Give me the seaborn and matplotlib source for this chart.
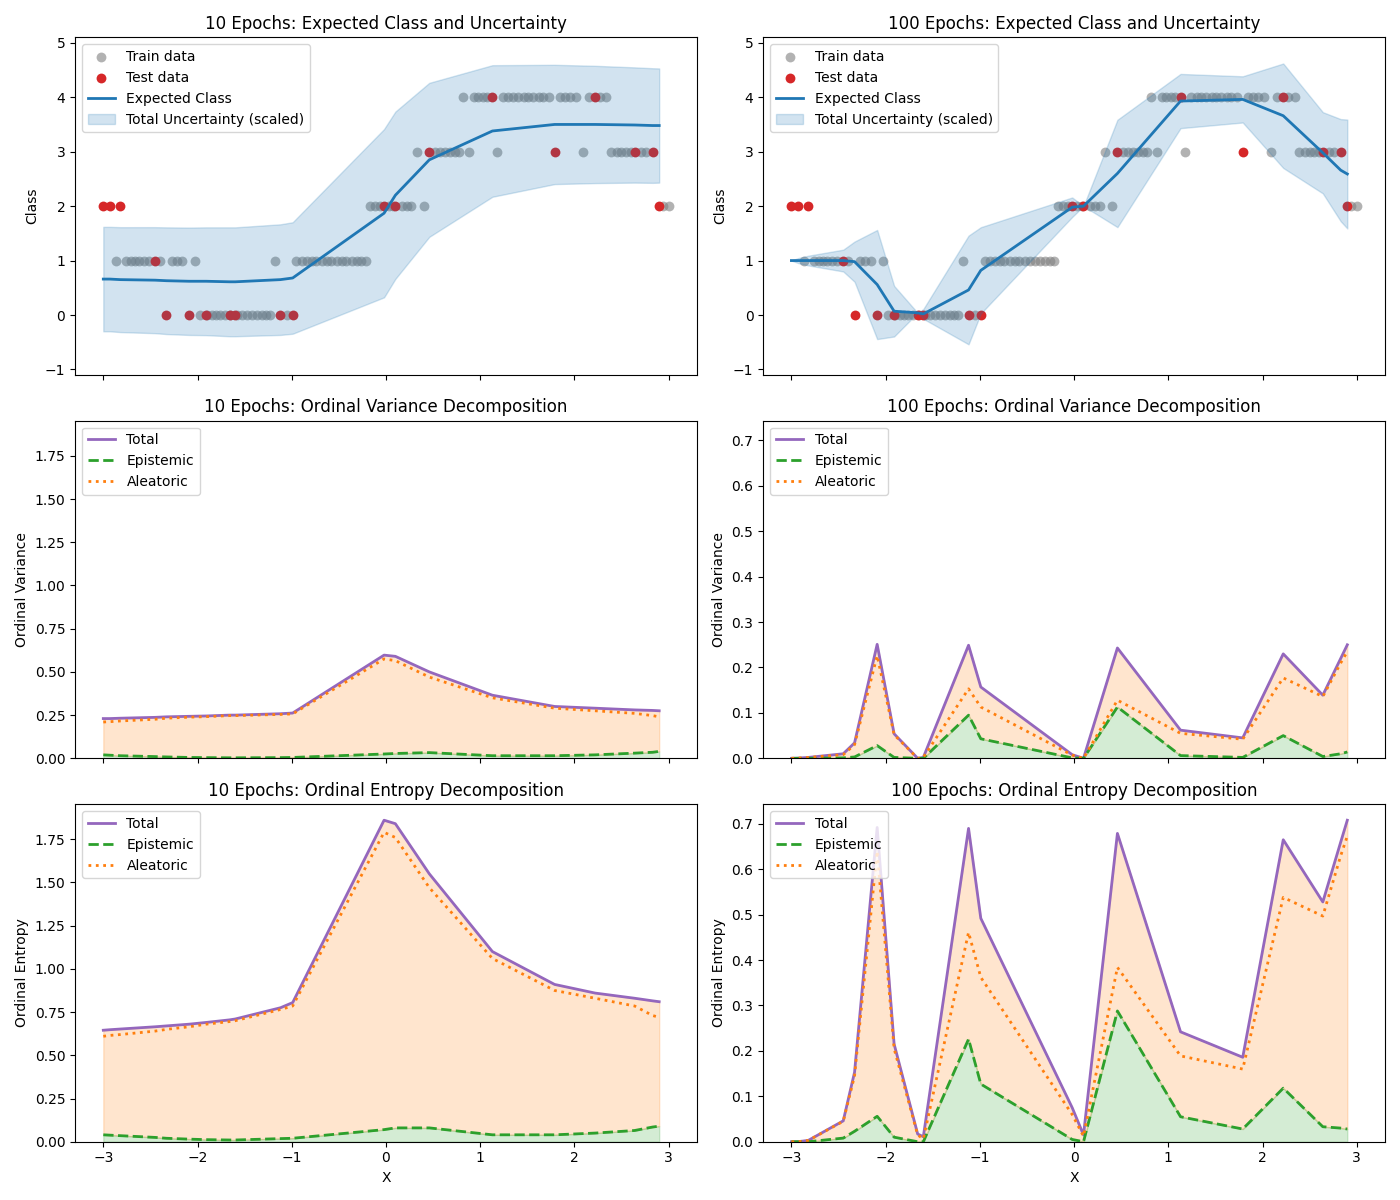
import numpy as np
import matplotlib
matplotlib.use("Agg")
import matplotlib.pyplot as plt
import seaborn as sns

# ---------------- data ----------------
train_x_class0 = [-1.97, -1.90, -1.85, -1.80, -1.76, -1.71, -1.65, -1.58, -1.53, -1.48,
                  -1.42, -1.37, -1.32, -1.27, -1.23, -1.05]
train_x_class1 = [-2.87, -2.76, -2.71, -2.66, -2.62, -2.57, -2.52, -2.40, -2.27, -2.22,
                  -2.16, -2.03, -1.18, -0.95, -0.89, -0.84, -0.79, -0.74, -0.68, -0.63,
                  -0.58, -0.52, -0.47, -0.42, -0.36, -0.31, -0.26, -0.21]
train_x_class2 = [-0.17, -0.12, -0.06, 0.03, 0.08, 0.17, 0.22, 0.27, 0.40, 2.94, 3.00]
train_x_class3 = [0.33, 0.52, 0.57, 0.63, 0.68, 0.73, 0.77, 0.88, 1.18, 2.09, 2.39, 2.45,
                  2.50, 2.55, 2.60, 2.71, 2.76]
train_x_class4 = [0.82, 0.93, 0.98, 1.03, 1.07, 1.24, 1.30, 1.35, 1.40, 1.46, 1.51, 1.56,
                  1.62, 1.67, 1.73, 1.85, 1.90, 1.95, 2.02, 2.15, 2.27, 2.34]

test_x = [-3.00, -2.93, -2.82, -2.45, -2.33, -2.09, -1.91, -1.66, -1.60, -1.12,
          -0.99, -0.02, 0.10, 0.46, 1.13, 1.79, 2.22, 2.64, 2.83, 2.90]
test_y = [2, 2, 2, 1, 0, 0, 0, 0, 0, 0, 0, 2, 2, 3, 4, 3, 4, 3, 3, 2]

# 10 epochs
exp_class_10 = [0.66, 0.66, 0.65, 0.64, 0.63, 0.62, 0.62, 0.61, 0.61, 0.65,
                0.68, 1.87, 2.20, 2.85, 3.38, 3.50, 3.50, 3.49, 3.48, 3.48]
var_total_10 = [0.230, 0.230, 0.232, 0.237, 0.240, 0.243, 0.245, 0.250, 0.250, 0.258,
                0.262, 0.597, 0.590, 0.500, 0.365, 0.300, 0.290, 0.280, 0.277, 0.275]
var_epi_10 = [0.020, 0.018, 0.015, 0.010, 0.008, 0.005, 0.004, 0.003, 0.003, 0.004,
              0.005, 0.025, 0.028, 0.033, 0.015, 0.015, 0.020, 0.030, 0.035, 0.040]
var_alea_10 = [0.210, 0.212, 0.216, 0.226, 0.232, 0.238, 0.241, 0.247, 0.247, 0.254,
               0.257, 0.575, 0.565, 0.470, 0.350, 0.290, 0.275, 0.260, 0.247, 0.240]
ent_total_10 = [0.645, 0.648, 0.652, 0.665, 0.670, 0.680, 0.690, 0.705, 0.710, 0.775,
                0.805, 1.860, 1.840, 1.550, 1.100, 0.910, 0.860, 0.830, 0.815, 0.810]
ent_epi_10 = [0.040, 0.038, 0.035, 0.025, 0.020, 0.015, 0.012, 0.010, 0.010, 0.018,
              0.020, 0.070, 0.080, 0.080, 0.040, 0.040, 0.050, 0.065, 0.085, 0.090]
ent_alea_10 = [0.610, 0.615, 0.620, 0.640, 0.650, 0.665, 0.680, 0.695, 0.700, 0.765,
               0.785, 1.790, 1.760, 1.470, 1.060, 0.875, 0.830, 0.785, 0.730, 0.720]

# 100 epochs
exp_class_100 = [1.00, 1.00, 1.00, 1.00, 0.98, 0.56, 0.07, 0.04, 0.02, 0.46,
                 0.82, 1.98, 2.00, 2.60, 3.93, 3.96, 3.66, 2.98, 2.66, 2.59]
var_total_100 = [0.000, 0.0005, 0.002, 0.010, 0.034, 0.251, 0.054, 0.000, 0.002, 0.249,
                 0.157, 0.008, 0.000, 0.243, 0.062, 0.045, 0.230, 0.139, 0.220, 0.250]
var_epi_100 = [0.000, 0.000, 0.000, 0.001, 0.003, 0.028, 0.002, 0.000, 0.000, 0.095,
               0.043, 0.001, 0.000, 0.113, 0.006, 0.002, 0.050, 0.004, 0.010, 0.014]
var_alea_100 = [0.000, 0.0005, 0.002, 0.008, 0.030, 0.226, 0.052, 0.000, 0.002, 0.153,
                0.113, 0.007, 0.000, 0.128, 0.055, 0.042, 0.177, 0.136, 0.210, 0.235]
ent_total_100 = [0.000, 0.000, 0.003, 0.046, 0.153, 0.692, 0.215, 0.017, 0.011, 0.690,
                 0.492, 0.075, 0.015, 0.679, 0.242, 0.186, 0.665, 0.528, 0.660, 0.708]
ent_epi_100 = [0.000, 0.000, 0.000, 0.008, 0.023, 0.056, 0.010, 0.000, 0.000, 0.226,
               0.127, 0.005, 0.000, 0.288, 0.055, 0.028, 0.118, 0.033, 0.030, 0.028]
ent_alea_100 = [0.000, 0.000, 0.003, 0.045, 0.145, 0.640, 0.205, 0.015, 0.006, 0.461,
                0.362, 0.060, 0.012, 0.384, 0.189, 0.160, 0.538, 0.497, 0.630, 0.673]

epoch_labels = ["10 Epochs", "100 Epochs"]

# -------------- build --------------
train_x = np.array(train_x_class0 + train_x_class1 + train_x_class2 + train_x_class3 + train_x_class4)
train_y = np.array([0] * len(train_x_class0) + [1] * len(train_x_class1) + [2] * len(train_x_class2)
                   + [3] * len(train_x_class3) + [4] * len(train_x_class4))
tx = np.array(test_x)
ty = np.array(test_y)

runs = [
    dict(exp=exp_class_10, vt=var_total_10, ve=var_epi_10, va=var_alea_10,
         et=ent_total_10, ee=ent_epi_10, ea=ent_alea_10),
    dict(exp=exp_class_100, vt=var_total_100, ve=var_epi_100, va=var_alea_100,
         et=ent_total_100, ee=ent_epi_100, ea=ent_alea_100),
]

fig, axes = plt.subplots(3, 2, figsize=(14, 12), dpi=100, sharex=True)

for col, (name, d) in enumerate(zip(epoch_labels, runs)):
    exp = np.array(d["exp"])
    vt = np.array(d["vt"])
    band = 2 * np.sqrt(vt)

    ax = axes[0, col]
    sns.scatterplot(x=train_x, y=train_y, color="gray", alpha=0.6, s=50, linewidth=0,
                    label="Train data", ax=ax)
    sns.scatterplot(x=tx, y=ty, color="tab:red", s=50, linewidth=0, label="Test data", ax=ax)
    sns.lineplot(x=tx, y=exp, color="tab:blue", linewidth=2, label="Expected Class",
                 sort=False, estimator=None, ax=ax)
    ax.fill_between(tx, exp - band, exp + band, color="tab:blue", alpha=0.2,
                    label="Total Uncertainty (scaled)")
    ax.set_title(f"{name}: Expected Class and Uncertainty")
    ax.set_ylabel("Class")
    ax.set_xlabel("")
    ax.set_ylim(-1.1, 5.1)
    ax.legend(loc="upper left")

    ymax = max(d["et"]) * 1.05
    for row, (kind, tot, epi, alea, ylabel) in enumerate([
        ("Variance", d["vt"], d["ve"], d["va"], "Ordinal Variance"),
        ("Entropy", d["et"], d["ee"], d["ea"], "Ordinal Entropy"),
    ], start=1):
        ax = axes[row, col]
        tot = np.array(tot)
        epi = np.array(epi)
        alea = np.array(alea)
        ax.fill_between(tx, epi, tot, color="tab:orange", alpha=0.2)
        ax.fill_between(tx, 0, epi, color="tab:green", alpha=0.2)
        sns.lineplot(x=tx, y=tot, color="tab:purple", linewidth=2, label="Total",
                     sort=False, estimator=None, ax=ax)
        sns.lineplot(x=tx, y=epi, color="tab:green", linewidth=2, linestyle="--",
                     label="Epistemic", sort=False, estimator=None, ax=ax)
        sns.lineplot(x=tx, y=alea, color="tab:orange", linewidth=2, linestyle=":",
                     label="Aleatoric", sort=False, estimator=None, ax=ax)
        ax.set_title(f"{name}: Ordinal {kind} Decomposition")
        ax.set_ylabel(ylabel)
        ax.set_ylim(0, ymax)
        ax.legend(loc="upper left")
        ax.set_xlabel("X" if row == 2 else "")

for ax in axes.flat:
    ax.set_xlim(-3.3, 3.3)

fig.tight_layout()
fig.savefig("out.png", dpi=100)
